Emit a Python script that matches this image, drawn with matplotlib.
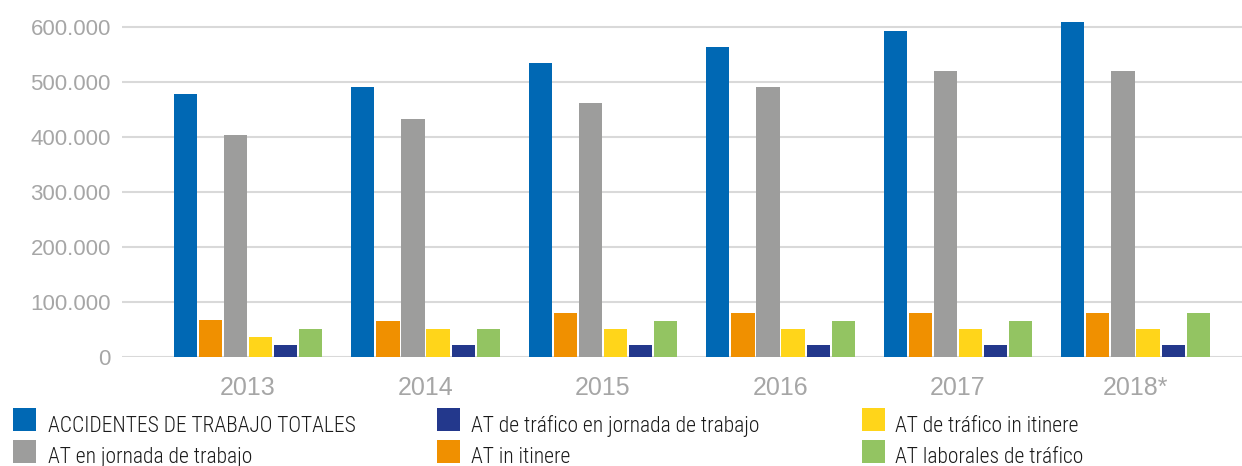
import matplotlib
matplotlib.use("Agg")
import matplotlib.pyplot as plt
from matplotlib.patches import Rectangle
from matplotlib.ticker import FuncFormatter
from matplotlib import font_manager
import numpy as np

years = ["2013", "2014", "2015", "2016", "2017", "2018*"]
series_names = [
    "ACCIDENTES DE TRABAJO TOTALES",
    "AT in itinere",
    "AT en jornada de trabajo",
    "AT de tráfico in itinere",
    "AT de tráfico en jornada de trabajo",
    "AT laborales de tráfico",
]
totales = [478000, 491000, 535000, 564000, 593000, 609000]
in_itinere = [67000, 65000, 80000, 80000, 80000, 80000]
en_jornada = [403000, 433000, 462000, 491000, 520000, 520000]
trafico_itinere = [36000, 51000, 51000, 51000, 51000, 51000]
trafico_jornada = [22000, 22000, 22000, 22000, 22000, 22000]
laborales_trafico = [51000, 51000, 65000, 65000, 65000, 80000]
series_values = [totales, in_itinere, en_jornada, trafico_itinere, trafico_jornada, laborales_trafico]
colors = ["#0068B4", "#F09000", "#9D9D9C", "#FFD51A", "#23388C", "#93C462"]
yticks = [0, 100000, 200000, 300000, 400000, 500000, 600000]

legend_order = [0, 4, 3, 2, 1, 5]

avail = {f.name for f in font_manager.fontManager.ttflist}
cands = [n for n in ["Roboto Condensed", "Liberation Sans Narrow", "Roboto"] if n in avail]
narrow = cands[0] if cands else "DejaVu Sans"
plt.rcParams["font.family"] = ["Liberation Sans", "DejaVu Sans"]

W, H = 1242, 466
fig = plt.figure(figsize=(W / 100, H / 100), dpi=100)
ax = fig.add_axes([122 / W, (H - 357) / H, 1 - 122 / W, 335.5 / H])

x = np.arange(len(years))
step = 0.141
width = 0.13
for i, (vals, c) in enumerate(zip(series_values, colors)):
    ax.bar(x + (i - 2.5) * step, vals, width=width, color=c, zorder=3,
           label=series_names[i])

ax.set_xlim(-0.71, 5.60)
ax.set_ylim(0, 610000)
ax.set_yticks(yticks)
ax.yaxis.set_major_formatter(FuncFormatter(lambda v, p: f"{int(v):,}".replace(",", ".")))
ax.grid(axis="y", color="#D9D9D9", linewidth=1.5, zorder=0)
ax.set_axisbelow(True)
for s in ax.spines.values():
    s.set_visible(False)
ax.tick_params(axis="y", length=0, pad=8, labelsize=16, labelcolor="#A6A6A6")
ax.set_xticks(x)
ax.set_xticklabels(years)
ax.tick_params(axis="x", length=0, pad=14, labelsize=18, labelcolor="#A6A6A6")

cols_x = [13, 437, 862]
text_x = [48, 471, 895]
rows_base = [432, 463]
rows_box = [408, 440]
for k, si in enumerate(legend_order):
    r, c = divmod(k, 3)
    fig.add_artist(Rectangle((cols_x[c] / W, (H - rows_box[r] - 23) / H), 23 / W, 23 / H,
                             transform=fig.transFigure, facecolor=colors[si],
                             edgecolor="none"))
    fig.text(text_x[c] / W, (H - rows_base[r]) / H, series_names[si],
             fontsize=15.5, color="#1A1A1A", va="baseline", ha="left",
             family=[narrow, "DejaVu Sans"], fontweight="light")

fig.savefig("out.png", dpi=100)
